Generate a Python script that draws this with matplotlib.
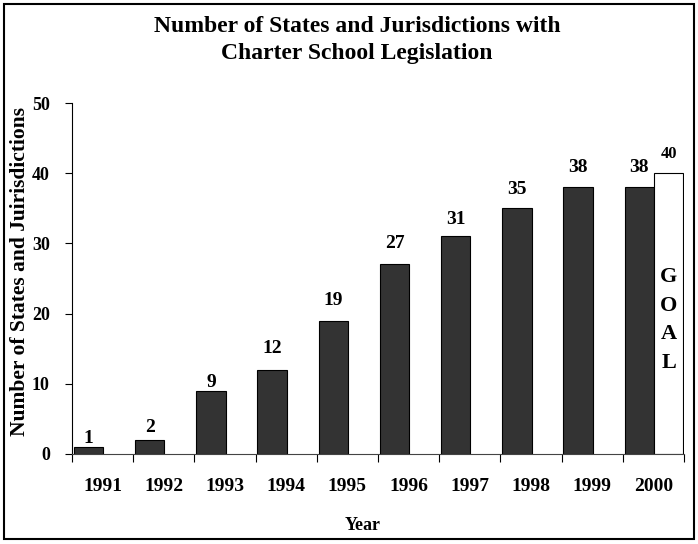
import matplotlib
matplotlib.use('Agg')
import matplotlib.pyplot as plt
from matplotlib.patches import Rectangle
import numpy as np

plt.rcParams['font.family'] = ['Liberation Serif', 'DejaVu Serif']
plt.rcParams['font.weight'] = 'bold'

years = ['1991', '1992', '1993', '1994', '1995', '1996', '1997', '1998', '1999', '2000']
states = [1, 2, 9, 12, 19, 27, 31, 35, 38, 38]
goal = [0, 0, 0, 0, 0, 0, 0, 0, 0, 40]
# gap (px) between bar top and its value label, as it sits in the original
label_gap = [4, 8, 4, 17, 16, 17, 13, 14, 15, 15]

W, H = 698, 544
fig = plt.figure(figsize=(W / 100, H / 100), dpi=100)
ax = fig.add_axes([72 / W, 1 - 454 / H, 612 / W, 351 / H])

x = np.arange(len(years))
left = x - 0.5
ax.bar(left + 0.03, states, width=0.48, align='edge', color='#333333',
       edgecolor='black', linewidth=0.8, zorder=2)
goal_x = [l + 0.51 for l, g in zip(left, goal) if g > 0]
goal_v = [g for g in goal if g > 0]
ax.bar(goal_x, goal_v, width=0.48, align='edge', color='white',
       edgecolor='black', linewidth=0.8, zorder=2)

for l, v, g in zip(left, states, label_gap):
    ax.annotate(str(v), (l + 0.27, v), xytext=(0, g * 0.72 - 3), textcoords='offset points',
                ha='center', va='bottom', fontsize=14, fontweight='bold')
for gx, gv in zip(goal_x, goal_v):
    ax.annotate(str(gv), (gx + 0.24, gv), xytext=(0, 8), textcoords='offset points',
                ha='center', va='bottom', fontsize=12, fontweight='bold')
    ax.text(gx + 0.24, 19.1, 'G\nO\nA\nL', ha='center', va='center',
            fontsize=16, fontweight='bold', linespacing=1.56)

ax.set_xlim(-0.5, len(years) - 0.5)
ax.set_ylim(0, 50)
ax.set_yticks([0, 10, 20, 30, 40, 50])
ax.tick_params(axis='y', direction='out', length=5, width=0.8, labelsize=13, pad=11)
ax.set_xticks(np.arange(len(years) + 1) - 0.5)
ax.set_xticklabels([])
ax.set_xticks(x, minor=True)
ax.set_xticklabels(years, minor=True, fontsize=14, fontweight='bold')
ax.tick_params(axis='x', which='major', direction='out', length=6, width=0.8)
ax.tick_params(axis='x', which='minor', length=0, pad=17)
for lab in ax.get_yticklabels():
    lab.set_fontweight('bold')

ax.spines['top'].set_visible(False)
ax.spines['right'].set_visible(False)
ax.spines['left'].set_linewidth(0.8)
ax.spines['bottom'].set_linewidth(0.8)
ax.spines['bottom'].set_color('#444444')

fig.text(363 / W, 1 - 525 / H, 'Year', ha='center', va='center',
         fontsize=13, fontweight='bold')
fig.text(20 / W, 1 - 272 / H, 'Number of States and Juirisdictions', rotation=90,
         ha='center', va='center', fontsize=15.5, fontweight='bold')

fig.text(357 / W, 1 - 40 / H, 'Number of States and Jurisdictions with\nCharter School Legislation',
         ha='center', va='center', fontsize=17, fontweight='bold', linespacing=1.4)

fig.patches.append(Rectangle((4 / W, 5 / H), 690 / W, 535 / H, transform=fig.transFigure,
                             fill=False, edgecolor='black', linewidth=1.5))

fig.savefig('out.png', dpi=100)
